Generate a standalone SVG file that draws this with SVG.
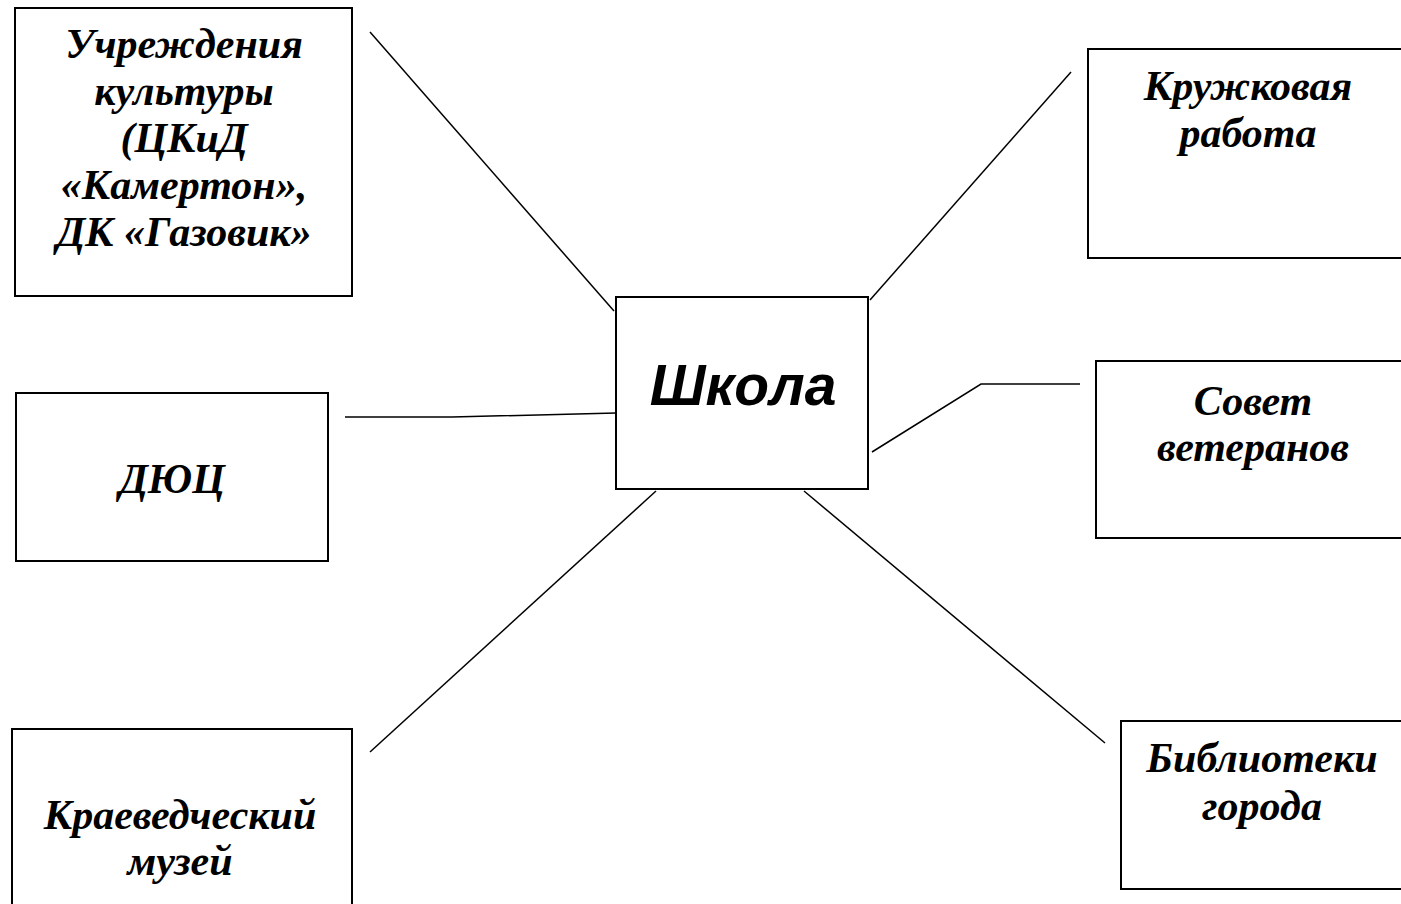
<svg xmlns="http://www.w3.org/2000/svg" width="1401" height="904" viewBox="0 0 1401 904">
<style>
.box{fill:#fff;stroke:#000;stroke-width:2}
.t{font-family:"Liberation Serif","Times New Roman",serif;font-weight:bold;font-style:italic;font-size:42px;fill:#000;text-anchor:middle}
.c{font-family:"Liberation Sans",Arial,sans-serif;font-weight:bold;font-style:italic;font-size:57px;fill:#000;text-anchor:middle}
.ln{fill:none;stroke:#000;stroke-width:1.5}
</style>
<rect width="1401" height="904" fill="#fff"/>
<g id="connectors">
<line class="ln" x1="370" y1="32" x2="614" y2="311"/>
<line class="ln" x1="1071" y1="72" x2="870" y2="300"/>
<polyline class="ln" points="345,417 452,417 616,413"/>
<polyline class="ln" points="872,452 981,384 1080,384"/>
<line class="ln" x1="370" y1="752" x2="656" y2="491"/>
<line class="ln" x1="804" y1="491" x2="1105" y2="743"/>
</g>
<g id="school">
<rect class="box" x="616" y="297" width="252" height="192"/>
<text class="c" x="743" y="405">Школа</text>
</g>
<g id="culture">
<rect class="box" x="15" y="8" width="337" height="288"/>
<text class="t" x="184" y="58">Учреждения</text>
<text class="t" x="184" y="105">культуры</text>
<text class="t" x="184" y="152">(ЦКиД</text>
<text class="t" x="184" y="199">«Камертон»,</text>
<text class="t" x="184" y="246">ДК «Газовик»</text>
</g>
<g id="dyuc">
<rect class="box" x="16" y="393" width="312" height="168"/>
<text class="t" x="172" y="493">ДЮЦ</text>
</g>
<g id="museum">
<rect class="box" x="12" y="729" width="340" height="190"/>
<text class="t" x="180" y="829">Краеведческий</text>
<text class="t" x="180" y="875">музей</text>
</g>
<g id="circles">
<rect class="box" x="1088" y="49" width="340" height="209"/>
<text class="t" x="1248" y="100">Кружковая</text>
<text class="t" x="1248" y="147">работа</text>
</g>
<g id="veterans">
<rect class="box" x="1096" y="361" width="340" height="177"/>
<text class="t" x="1253" y="415">Совет</text>
<text class="t" x="1253" y="461">ветеранов</text>
</g>
<g id="libraries">
<rect class="box" x="1121" y="721" width="340" height="168"/>
<text class="t" x="1262" y="772">Библиотеки</text>
<text class="t" x="1262" y="820">города</text>
</g>
</svg>
